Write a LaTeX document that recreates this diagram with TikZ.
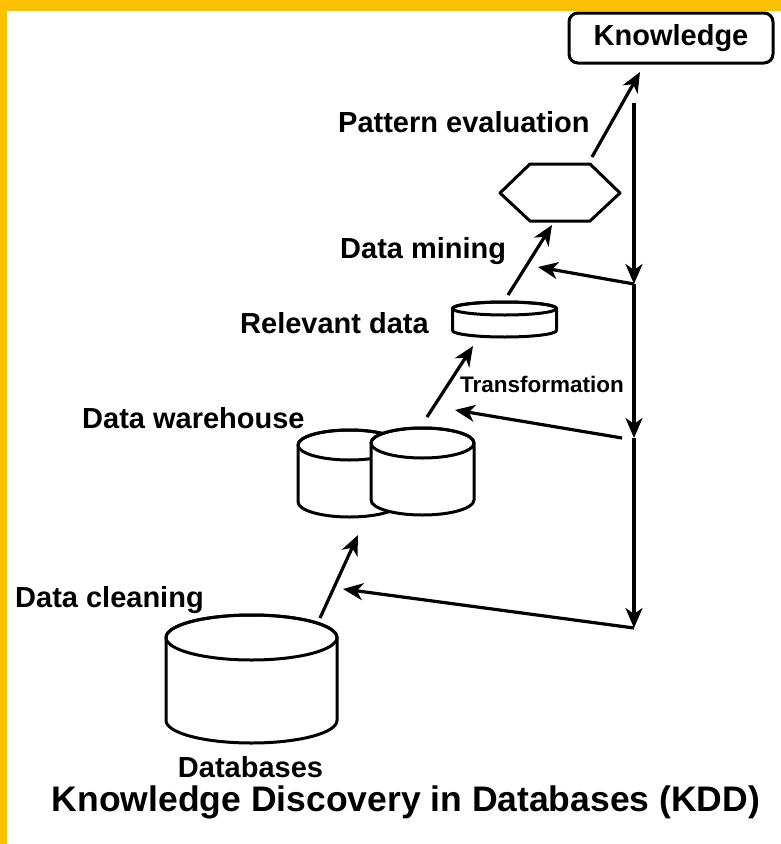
\documentclass[tikz,border=0pt]{standalone}
\usepackage{fontspec}
\setmainfont{Liberation Sans}
\usetikzlibrary{arrows.meta}
\definecolor{frameyellow}{RGB}{255,192,0}

% cylinder: centre x, top centre y, bottom centre y, x radius, y radius
\newcommand\dbcylinder[5]{%
  \filldraw[shapeline, fill=white]
    (#1-#4,#2) -- (#1-#4,#3)
    arc[start angle=180, end angle=0, x radius=#4, y radius=#5]
    -- (#1+#4,#2)
    arc[start angle=0, end angle=-180, x radius=#4, y radius=#5] -- cycle;
  \draw[shapeline] (#1,#2) ellipse[x radius=#4, y radius=#5];
}

\tikzset{
  shapeline/.style={line width=3pt, line join=round},
  flow/.style={line width=3.2pt, -{Stealth[length=20pt, width=17pt, inset=6pt]}},
  lbl/.style={inner sep=0pt, font=\fontsize{29}{34}\selectfont\bfseries},
  smalllbl/.style={inner sep=0pt, font=\fontsize{22.5}{27}\selectfont\bfseries},
  titlelbl/.style={inner sep=0pt, font=\fontsize{35.5}{42}\selectfont\bfseries},
  kbox/.style={draw, line width=3pt, rounded corners=9pt, minimum width=204pt,
    minimum height=50pt, inner sep=0pt, fill=white,
    font=\fontsize{29}{34}\selectfont\bfseries},
}

\begin{document}
\begin{tikzpicture}[x=1pt, y=-1pt]
  \useasboundingbox (0,0) rectangle (781,844);
  % framed page
  \fill[frameyellow] (0,0) rectangle (781,844);
  \fill[white] (7,11) rectangle (781,844);

  % stores
  \dbcylinder{251.5}{637.5}{720.5}{85.5}{22.5}
  \dbcylinder{349.5}{445}{502}{51.5}{15}
  \dbcylinder{422.5}{443}{500}{51.5}{15}
  \dbcylinder{504.5}{308.5}{330.5}{52}{6.5}

  % pattern evaluation hexagon
  \draw[shapeline, fill=white] (500,193) -- (530,164) -- (590,164)
    -- (620,193) -- (590,221) -- (530,221) -- cycle;

  % result box
  \node[kbox] (know) at (671,38) {Knowledge};

  % labels
  \node[lbl, anchor=base west] (patteval) at (338,132) {Pattern evaluation};
  \node[lbl, anchor=base west] (mining) at (340,258) {Data mining};
  \node[lbl, anchor=base west] (relevant) at (240,333) {Relevant data};
  \node[smalllbl, anchor=base west] (transform) at (460,392) {Transformation};
  \node[lbl, anchor=base west] (warehouse) at (82,428) {Data warehouse};
  \node[lbl, anchor=base west] (cleaning) at (15,607) {Data cleaning};
  \node[lbl, anchor=base] (dbs) at (250.5,777) {Databases};
  \node[titlelbl, anchor=base] (title) at (406,811)
    {Knowledge Discovery in Databases (KDD)};

  % arrow end points
  \coordinate (dbout) at (320,618);
  \coordinate (whin) at (358,535);
  \coordinate (whout) at (427,417);
  \coordinate (relin) at (473,346);
  \coordinate (relout) at (508,295);
  \coordinate (hexin) at (552,225);
  \coordinate (hexout) at (592,157);
  \coordinate (knowin) at (640,72);

  \coordinate (vtop) at (634,103);
  \coordinate (v1) at (634,284);
  \coordinate (v2) at (634,438);
  \coordinate (v3) at (634,628);
  \coordinate (fb1) at (538,267);
  \coordinate (fb2) at (455,410);
  \coordinate (fb3) at (343,589);

  % forward steps
  \draw[flow] (dbout) -- (whin);
  \draw[flow] (whout) -- (relin);
  \draw[flow] (relout) -- (hexin);
  \draw[flow] (hexout) -- (knowin);

  % feedback line
  \draw[flow] (vtop) -- (v1);
  \draw[flow] (v1) -- (v2);
  \draw[flow] (v2) -- (v3);
  \draw[flow] (v1) -- (fb1);
  \draw[flow] ([xshift=-12pt]v2) -- (fb2);
  \draw[flow] (v3) -- (fb3);
\end{tikzpicture}
\end{document}
